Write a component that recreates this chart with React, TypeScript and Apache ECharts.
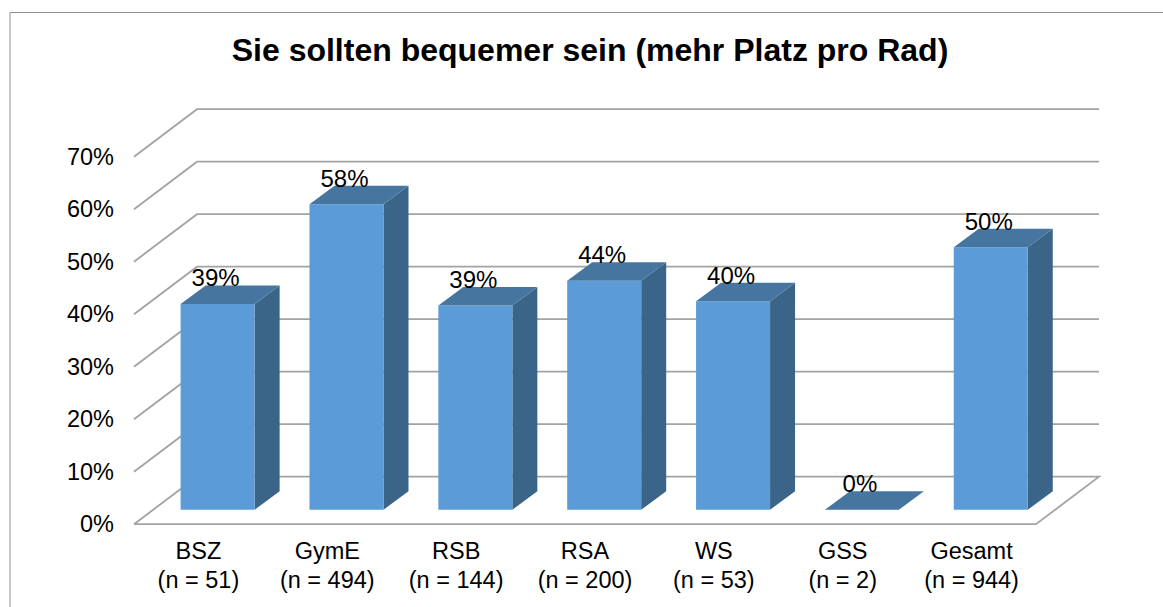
import React, { useEffect, useRef } from "react";
import * as echarts from "echarts";

const titleText = "Sie sollten bequemer sein (mehr Platz pro Rad)";
const categories = [
  "BSZ\n(n = 51)",
  "GymE\n(n = 494)",
  "RSB\n(n = 144)",
  "RSA\n(n = 200)",
  "WS\n(n = 53)",
  "GSS\n(n = 2)",
  "Gesamt\n(n = 944)",
];
const shares = [39.2, 58.2, 38.9, 43.6, 39.7, 0, 50];
const axisTicks = [0, 10, 20, 30, 40, 50, 60, 70];

const FONT = '"Liberation Sans", Arial, sans-serif';
const WALL_DX = 63;
const WALL_DY = -47.5;
const BAR_INSET_DX = 19.2;
const BAR_INSET_DY = -14.5;
const BAR_DEPTH_DX = 25;
const BAR_DEPTH_DY = -18.5;
const BAR_WIDTH = 74;

export default function App() {
  const ref = useRef<HTMLDivElement>(null);
  useEffect(() => {
    const chart = echarts.init(ref.current!, null, { renderer: "svg" });
    chart.setOption({
      animation: false,
      backgroundColor: "#ffffff",
      title: {
        text: titleText,
        left: 585,
        top: 29,
        textAlign: "center",
        textStyle: { fontFamily: FONT, fontSize: 32, fontWeight: "bold", color: "#000000" },
      },
      graphic: [
        {
          type: "polyline",
          silent: true,
          shape: { points: [[10, 607], [10, 12.5], [1163, 12.5]] },
          style: { stroke: "#8f8f8f", lineWidth: 1, fill: "none" },
        },
      ],
      grid: { left: 134, top: 156.7, width: 902, height: 367.5 },
      xAxis: {
        type: "category",
        data: categories,
        axisLine: { show: false },
        axisTick: { show: false },
        axisLabel: {
          margin: 12,
          lineHeight: 29,
          fontFamily: FONT,
          fontSize: 23.5,
          color: "#000000",
          interval: 0,
        },
      },
      yAxis: {
        type: "value",
        min: 0,
        max: 70,
        interval: 10,
        axisLine: { show: false },
        axisTick: { show: false },
        splitLine: { show: false },
        axisLabel: {
          margin: 20,
          fontFamily: FONT,
          fontSize: 23.5,
          color: "#000000",
          formatter: "{value}%",
          padding: [0, 0, 4, 0],
        },
      },
      series: [
        {
          type: "custom",
          z: 1,
          silent: true,
          data: axisTicks.map((t) => [0, t]),
          encode: { y: 1 },
          renderItem: (params: any, api: any) => {
            const sys = params.coordSys;
            const tick = api.value(1);
            const y = api.coord([0, tick])[1];
            const x0 = sys.x;
            const x1 = sys.x + sys.width;
            const pts =
              tick === 0
                ? [
                    [x0, y],
                    [x0 + WALL_DX, y + WALL_DY],
                    [x1 + WALL_DX, y + WALL_DY],
                    [x1, y],
                    [x0, y],
                  ]
                : [
                    [x0, y],
                    [x0 + WALL_DX, y + WALL_DY],
                    [x1 + WALL_DX, y + WALL_DY],
                  ];
            return {
              type: "polyline",
              shape: { points: pts },
              style: { stroke: "#a3a3a3", lineWidth: 1.8, fill: "none" },
            };
          },
        },
        {
          type: "custom",
          z: 2,
          silent: true,
          data: shares.map((v, i) => [i, v]),
          encode: { x: 0, y: 1 },
          renderItem: (_params: any, api: any) => {
            const i = api.value(0);
            const v = api.value(1);
            const top = api.coord([i, v]);
            const base = api.coord([i, 0]);
            const xl = top[0] + BAR_INSET_DX - BAR_WIDTH / 2;
            const xr = xl + BAR_WIDTH;
            const yt = top[1] + BAR_INSET_DY;
            const yb = base[1] + BAR_INSET_DY;
            const children: any[] = [];
            if (v > 0) {
              children.push({
                type: "polygon",
                shape: {
                  points: [
                    [xr, yt],
                    [xr + BAR_DEPTH_DX, yt + BAR_DEPTH_DY],
                    [xr + BAR_DEPTH_DX, yb + BAR_DEPTH_DY],
                    [xr, yb],
                  ],
                },
                style: { fill: "#3A6488" },
              });
              children.push({
                type: "rect",
                shape: { x: xl, y: yt, width: BAR_WIDTH, height: yb - yt },
                style: { fill: "#5B9BD7" },
              });
            }
            children.push({
              type: "polygon",
              shape: {
                points: [
                  [xl, yt],
                  [xl + BAR_DEPTH_DX, yt + BAR_DEPTH_DY],
                  [xr + BAR_DEPTH_DX, yt + BAR_DEPTH_DY],
                  [xr, yt],
                ],
              },
              style: { fill: "#46769F" },
            });
            return { type: "group", children };
          },
        },
        {
          type: "custom",
          z: 3,
          silent: true,
          data: shares.map((v, i) => [i, v]),
          encode: { x: 0, y: 1 },
          renderItem: (_params: any, api: any) => {
            const v = api.value(1);
            const top = api.coord([api.value(0), v]);
            return {
              type: "text",
              style: {
                x: top[0] + BAR_INSET_DX - 2,
                y: top[1] + BAR_INSET_DY - 26,
                text: Math.round(v) + "%",
                align: "center",
                verticalAlign: "middle",
                font: `24px ${FONT}`,
                fill: "#000000",
              },
            };
          },
        },
      ],
    });
    return () => chart.dispose();
  }, []);
  return (
    <div
      ref={ref}
      style={{ position: "absolute", left: 0, top: 0, width: 1163, height: 607 }}
    />
  );
}
